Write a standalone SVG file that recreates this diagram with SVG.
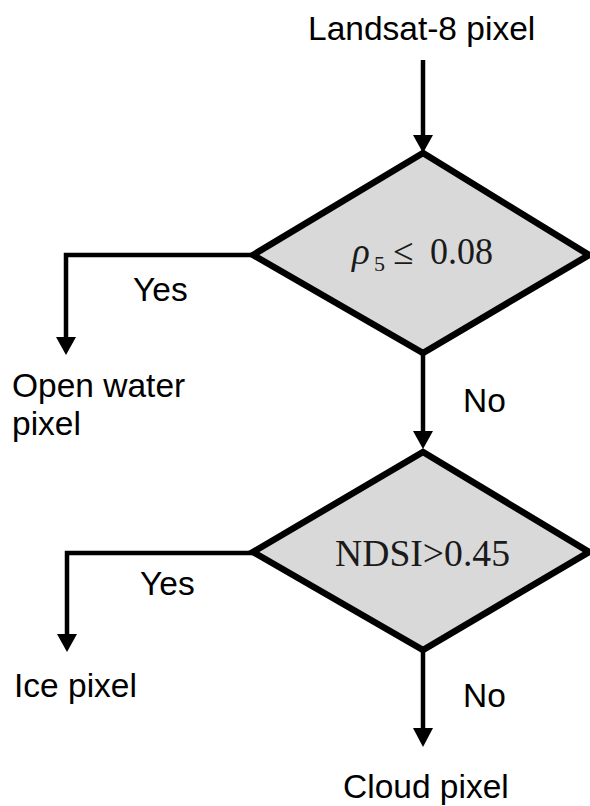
<svg xmlns="http://www.w3.org/2000/svg" width="590" height="806" viewBox="0 0 590 806">
<style>
.lbl{font-family:"Liberation Sans",Arial,sans-serif;font-size:33.5px;fill:#000}
.math{font-family:"Liberation Serif","Times New Roman",serif;font-size:37px;fill:#1a1a1a}
.sub{font-size:22px}
.dia{fill:#d9d9d9;stroke:#000;stroke-width:6.5;stroke-linejoin:miter}
.con{fill:none;stroke:#000;stroke-width:4.5}
.head{fill:#000}
</style>
<rect width="590" height="806" fill="#fff"/>
<g id="connectors">
<line class="con" x1="423" y1="60" x2="423" y2="138"/>
<polygon class="head" points="413,135 433,135 423,153"/>
<polyline class="con" points="253,255 66,255 66,340"/>
<polygon class="head" points="56,337 76,337 66,355"/>
<line class="con" x1="423" y1="353" x2="423" y2="434"/>
<polygon class="head" points="413,431 433,431 423,449"/>
<polyline class="con" points="253,553 67,553 67,637"/>
<polygon class="head" points="57,634 77,634 67,652"/>
<line class="con" x1="423" y1="650" x2="423" y2="731"/>
<polygon class="head" points="413,728 433,728 423,747"/>
<text class="lbl" x="133" y="301">Yes</text>
<text class="lbl" x="463" y="412">No</text>
<text class="lbl" x="140" y="595">Yes</text>
<text class="lbl" x="463" y="707">No</text>
</g>
<g id="start">
<text class="lbl" x="308" y="40">Landsat-8 pixel</text>
</g>
<g id="decision1">
<polygon class="dia" points="423,153 589,255 423,353 253,255"/>
<text class="math" x="352" y="264" font-style="italic">ρ</text>
<text class="math sub" x="374" y="271">5</text>
<text class="math" x="393" y="264">≤</text>
<text class="math" x="430" y="264" textLength="63" lengthAdjust="spacingAndGlyphs">0.08</text>
</g>
<g id="decision2">
<polygon class="dia" points="423,452 589,552 423,650 253,552"/>
<text class="math" x="335" y="566" textLength="175" lengthAdjust="spacingAndGlyphs">NDSI&gt;0.45</text>
</g>
<g id="openwater">
<text class="lbl" x="12" y="397">Open water</text>
<text class="lbl" x="12" y="435">pixel</text>
</g>
<g id="ice">
<text class="lbl" x="14" y="697">Ice pixel</text>
</g>
<g id="cloud">
<text class="lbl" x="343" y="798">Cloud pixel</text>
</g>
</svg>
